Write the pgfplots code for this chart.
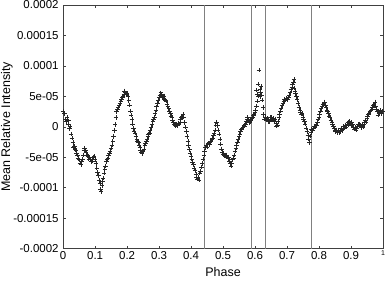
\documentclass[border=0pt]{standalone}
\usepackage{fontspec}
\setmainfont{Liberation Sans}
\usepackage{pgfplots}
\pgfplotsset{compat=1.18}
\usepackage{pgfplotstable}
\pgfplotstableread{
x y
0.000 2.6
0.004 2.2
0.007 1.3
0.010 0.9
0.012 1.6
0.015 0.4
0.017 1.0
0.020 -0.3
0.022 0.1
0.025 -1.2
0.027 -1.8
0.030 -2.6
0.032 -3.3
0.035 -3.2
0.037 -3.7
0.040 -3.9
0.042 -4.3
0.045 -4.6
0.047 -5.2
0.050 -5.4
0.052 -5.9
0.055 -6.2
0.057 -5.7
0.060 -5.3
0.062 -4.6
0.065 -3.9
0.067 -3.5
0.070 -3.8
0.072 -4.2
0.075 -4.6
0.077 -4.9
0.080 -5.3
0.082 -5.0
0.085 -5.4
0.087 -5.7
0.090 -5.3
0.092 -5.6
0.095 -5.0
0.097 -4.8
0.100 -5.4
0.102 -6.0
0.105 -6.8
0.107 -7.5
0.110 -8.0
0.112 -8.8
0.115 -9.3
0.117 -10.2
0.119 -10.6
0.121 -9.6
0.123 -8.9
0.125 -8.4
0.128 -7.6
0.130 -7.0
0.132 -6.4
0.135 -5.7
0.137 -5.3
0.140 -5.1
0.142 -4.7
0.145 -4.3
0.147 -4.0
0.150 -3.5
0.152 -3.0
0.155 -2.4
0.157 -1.6
0.160 -0.6
0.162 0.4
0.165 1.5
0.167 2.5
0.170 2.9
0.172 3.2
0.175 3.6
0.177 3.9
0.180 4.2
0.182 4.6
0.185 4.8
0.187 5.1
0.190 5.4
0.192 5.9
0.195 5.6
0.197 5.3
0.200 5.5
0.202 5.0
0.205 4.3
0.207 3.6
0.210 2.6
0.212 1.9
0.215 1.2
0.217 0.5
0.220 -0.3
0.222 -0.8
0.225 -1.0
0.227 -1.5
0.230 -2.0
0.232 -2.3
0.235 -2.6
0.237 -3.0
0.240 -3.4
0.242 -3.8
0.245 -4.1
0.247 -4.4
0.250 -4.0
0.252 -3.6
0.255 -3.1
0.257 -2.7
0.260 -2.3
0.262 -2.0
0.265 -1.6
0.267 -1.2
0.270 -1.0
0.272 -0.6
0.275 -0.1
0.277 0.4
0.280 0.9
0.282 1.2
0.285 1.6
0.287 2.2
0.290 2.8
0.292 3.3
0.295 3.8
0.297 4.3
0.300 4.8
0.302 5.2
0.305 5.6
0.307 5.3
0.310 5.0
0.312 4.8
0.315 5.1
0.317 4.6
0.320 4.4
0.322 4.2
0.325 3.7
0.327 3.3
0.330 3.0
0.332 2.6
0.335 2.2
0.337 1.8
0.340 1.5
0.342 1.1
0.345 0.7
0.347 0.4
0.350 0.3
0.352 0.1
0.355 0.4
0.357 0.2
0.360 0.6
0.362 0.5
0.365 0.8
0.367 1.2
0.370 1.5
0.372 1.7
0.375 2.0
0.377 1.6
0.380 0.7
0.382 0.0
0.385 -0.8
0.387 -1.6
0.390 -2.4
0.392 -3.1
0.395 -3.7
0.397 -4.3
0.400 -4.9
0.402 -5.3
0.405 -5.8
0.407 -6.2
0.410 -6.8
0.412 -7.2
0.415 -7.8
0.417 -8.3
0.420 -8.6
0.422 -8.2
0.425 -8.7
0.427 -7.6
0.430 -7.3
0.432 -6.6
0.435 -6.0
0.437 -5.3
0.440 -4.6
0.442 -4.0
0.445 -3.4
0.447 -3.1
0.450 -3.3
0.452 -2.9
0.455 -2.7
0.457 -2.9
0.460 -2.6
0.462 -2.3
0.465 -2.0
0.467 -1.8
0.470 -1.4
0.472 -1.0
0.475 -0.5
0.477 0.3
0.480 0.8
0.482 0.2
0.485 -0.5
0.487 -1.2
0.490 -2.0
0.492 -2.8
0.495 -3.6
0.497 -4.2
0.500 -4.5
0.502 -4.4
0.505 -4.7
0.507 -4.8
0.510 -4.6
0.512 -5.0
0.515 -5.2
0.517 -5.0
0.520 -5.6
0.522 -6.0
0.525 -6.4
0.527 -5.9
0.530 -5.4
0.532 -5.1
0.535 -4.6
0.537 -4.0
0.540 -3.5
0.542 -3.0
0.545 -2.5
0.547 -2.1
0.550 -1.6
0.552 -1.2
0.555 -0.8
0.557 -0.4
0.560 -0.2
0.562 0.0
0.565 0.3
0.567 0.1
0.570 0.5
0.572 0.9
0.575 1.2
0.577 1.5
0.580 1.1
0.582 0.7
0.585 0.9
0.587 1.2
0.590 1.4
0.592 1.6
0.595 1.9
0.597 2.1
0.600 2.4
0.602 2.8
0.605 3.4
0.605 6.0
0.607 4.2
0.608 5.4
0.610 5.1
0.610 7.0
0.612 9.3
0.615 6.2
0.615 5.0
0.617 5.6
0.618 6.6
0.620 5.2
0.622 4.4
0.625 3.2
0.627 2.0
0.630 1.3
0.632 1.6
0.635 1.1
0.637 1.4
0.640 0.9
0.642 1.3
0.645 0.9
0.647 1.5
0.650 1.2
0.652 1.6
0.655 1.1
0.657 1.4
0.660 0.9
0.662 1.3
0.665 0.6
0.667 0.1
0.670 0.3
0.672 0.9
0.675 1.5
0.677 2.1
0.680 2.6
0.682 3.1
0.685 3.5
0.687 3.8
0.690 4.2
0.692 4.5
0.695 4.4
0.697 4.7
0.700 4.6
0.702 4.5
0.705 4.9
0.707 5.2
0.710 5.6
0.712 6.1
0.715 6.5
0.717 7.0
0.720 7.4
0.721 7.8
0.722 6.4
0.725 5.9
0.727 5.5
0.730 5.0
0.732 4.5
0.735 3.8
0.737 3.2
0.740 2.8
0.742 2.4
0.745 2.1
0.747 2.2
0.750 1.6
0.752 1.2
0.755 0.9
0.757 0.5
0.760 -0.2
0.762 -0.8
0.765 -1.4
0.767 -2.0
0.770 -2.6
0.772 -1.5
0.775 -0.9
0.777 -0.4
0.780 -0.6
0.782 -0.2
0.785 0.1
0.787 0.0
0.790 0.4
0.792 0.3
0.795 0.8
0.797 1.3
0.800 1.6
0.802 2.1
0.805 2.6
0.807 3.0
0.810 3.4
0.812 3.7
0.815 3.9
0.817 4.1
0.820 3.6
0.822 3.2
0.825 2.8
0.827 2.5
0.830 2.2
0.832 1.8
0.835 1.5
0.837 1.1
0.840 0.8
0.842 0.4
0.845 0.1
0.847 -0.3
0.850 -0.6
0.852 -0.8
0.855 -0.5
0.857 -0.9
0.860 -0.6
0.862 -0.9
0.865 -0.5
0.867 -0.8
0.870 -0.3
0.872 -0.6
0.875 -0.2
0.877 0.1
0.880 -0.2
0.882 0.3
0.885 0.0
0.887 0.5
0.890 0.8
0.892 0.4
0.895 0.9
0.897 0.6
0.900 0.3
0.902 0.7
0.905 0.4
0.907 0.0
0.910 -0.4
0.912 -0.1
0.915 -0.5
0.917 -0.2
0.920 0.1
0.922 0.4
0.925 0.2
0.927 0.5
0.930 0.2
0.932 -0.1
0.935 0.3
0.937 0.0
0.940 0.4
0.942 0.7
0.945 1.0
0.947 0.8
0.950 1.4
0.952 1.8
0.955 2.1
0.957 2.3
0.960 2.6
0.962 2.8
0.965 2.9
0.967 3.2
0.970 3.5
0.972 3.7
0.975 4.1
0.977 3.4
0.980 2.9
0.982 2.5
0.985 1.9
0.987 2.3
0.990 2.7
0.992 2.4
0.995 2.2
0.998 2.5
}\phasedata
\begin{document}
\begin{tikzpicture}
\begin{axis}[
  name=ax,
  scale only axis,
  width=319bp, height=243bp,
  xmin=0, xmax=1, ymin=-20, ymax=20,
  xtick={0,0.1,0.2,0.3,0.4,0.5,0.6,0.7,0.8,0.9,1},
  xticklabels={0,0.1,0.2,0.3,0.4,0.5,0.6,0.7,0.8,0.9,{\fontsize{7}{8}\selectfont 1}},
  ytick={-20,-15,-10,-5,0,5,10,15,20},
  yticklabels={-0.0002,-0.00015,-0.0001,-5e-05,0,5e-05,0.0001,0.00015,0.0002},
  tick align=inside,
  major tick length=3bp,
  axis line style={black!75, line width=0.7pt},
  tick style={black!75, line width=0.6pt},
  tick label style={font=\fontsize{11.5}{13}\selectfont},
  yticklabel style={xshift=-1bp},
  xticklabel style={yshift=1bp},
  label style={font=\fontsize{12.5}{14}\selectfont},
  xlabel={Phase},
  ylabel={Mean Relative Intensity},
  xlabel style={yshift=-1bp},
  ylabel style={at={(rel axis cs:0,0.5)}, anchor=center, yshift=56bp},
]
\addplot[gray, line width=0.8pt] coordinates {(0.443,-20) (0.443,20)};
\addplot[gray, line width=0.8pt] coordinates {(0.587,-20) (0.587,20)};
\addplot[gray, line width=0.8pt] coordinates {(0.631,-20) (0.631,20)};
\addplot[gray, line width=0.8pt] coordinates {(0.775,-20) (0.775,20)};
\addplot[only marks, mark=+, mark size=2.2bp, black!85, mark options={line width=0.5pt}] table {\phasedata};
\end{axis}
\pgfresetboundingbox
\path ([shift={(-63bp,-34bp)}]ax.south west) rectangle ([shift={(4bp,5bp)}]ax.north east);
\end{tikzpicture}
\end{document}
